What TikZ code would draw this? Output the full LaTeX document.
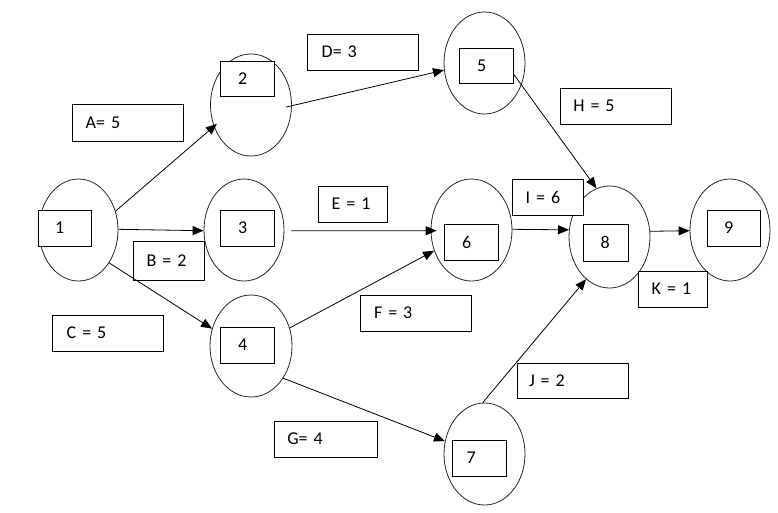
\documentclass[tikz,border=0pt]{standalone}
\usepackage{fontspec}
\setmainfont{Carlito}
\usetikzlibrary{shapes.geometric,arrows.meta}
\begin{document}
\begin{tikzpicture}[x=1pt,y=-1pt,
  ell/.style={draw=black!85, line width=0.8pt, ellipse, inner sep=0pt, minimum width=81pt, minimum height=102pt},
  numbox/.style={draw, fill=white, line width=0.8pt, minimum width=54pt, minimum height=36pt, inner ysep=0pt, inner xsep=18pt, text width=18pt, align=left, font=\fontsize{18}{20}\selectfont},
  lbl/.style={draw, fill=white, line width=0.8pt, minimum height=36pt, inner ysep=0pt, inner xsep=13.7pt, align=left, font=\fontsize{18}{20}\selectfont},
  arr/.style={-{Triangle[length=11pt,width=9pt]}, line width=0.8pt}]
\useasboundingbox (0,0) rectangle (778,512);
% event ellipses
\node[ell, minimum width=79pt] (e1) at (78.5,230) {};
\node[ell] (e2) at (251,105) {};
\node[ell, minimum width=80pt] (e3) at (244,230) {};
\node[ell, minimum width=82pt] (e4) at (251,346) {};
\node[ell] (e5) at (484.5,63) {};
\node[ell] (e6) at (471.5,230) {};
\node[ell] (e7) at (484.5,454) {};
\node[ell] (e8) at (609.5,237) {};
\node[ell, minimum width=80pt] (e9) at (730,230) {};
% number boxes
\node[numbox, minimum width=53pt, inner xsep=17pt, text width=19pt] (b1) at (64.5,228) {1};
\node[numbox, minimum height=35pt] (b2) at (247,78.5) {2};
\node[numbox] (b3) at (247,228) {3};
\node[numbox] (b4) at (247,345) {4};
\node[numbox, minimum height=35pt] (b5) at (486,65.5) {5};
\node[numbox] (b6) at (471,242) {6};
\node[numbox, inner xsep=14.7pt, text width=24.6pt] (b7) at (479,458) {7};
\node[numbox, minimum width=45pt, minimum height=37pt, inner xsep=17.7pt, text width=9.6pt] (b8) at (605.5,242.5) {8};
\node[numbox, minimum width=53pt, inner xsep=17pt, text width=19pt] (b9) at (733.5,228) {9};
% activity labels
\node[lbl, minimum width=111pt, minimum height=37pt, text width=83.6pt] (la) at (127.5,122.5) {A= 5};
\node[lbl, minimum width=111pt, inner xsep=14.7pt, text width=81.6pt] (ld) at (362.5,52) {D= 3};
\node[lbl, minimum width=69pt, text width=41.6pt] (le) at (352.5,204) {E = 1};
\node[lbl, minimum width=71pt, minimum height=39pt, text width=43.6pt] (lb) at (168.5,260.5) {B = 2};
\node[lbl, minimum width=111pt, inner xsep=14.7pt, text width=81.6pt] (lc) at (107.5,333) {C = 5};
\node[lbl, minimum width=111pt, inner xsep=14pt, text width=83pt] (lf) at (415.5,313) {F = 3};
\node[lbl, minimum width=103pt, inner xsep=13.3pt, text width=76.4pt] (lg) at (325.5,439) {G= 4};
\node[lbl, minimum width=111pt, inner xsep=13.3pt, text width=84.4pt] (lh) at (615.5,106) {H = 5};
\node[lbl, minimum width=71pt, text width=43.6pt] (li) at (547.5,197) {I = 6};
\node[lbl, minimum width=111pt, minimum height=35pt, inner xsep=12pt, text width=87pt] (lj) at (572.5,380.5) {J = 2};
\node[lbl, minimum width=69pt, text width=41.6pt] (lk) at (672.5,289) {K = 1};
% activities
\draw[arr, shorten >=-4pt] (e1.27) -- (e2.210);
\draw[arr] (e1.1) -- (e3.181);
\draw[arr] (e1.-47) -- (e4.156);
\draw[arr, shorten <=-6pt] (e2.-1) -- (e5.190);
\draw[arr, shorten <=7pt, shorten >=-6pt] (e3.-1) -- (e6.181);
\draw[arr] (e4.25) -- (e6.209);
\draw[arr] (e4.-45) -- (e7.162);
\draw[arr] (b5.-17.5) -- (e8.105);
\draw[arr] (e6.1) -- (e8.170);
\draw[arr] (e7.92) -- (e8.241);
\draw[arr] (e8.8) -- (e9.181);
\end{tikzpicture}
\end{document}
